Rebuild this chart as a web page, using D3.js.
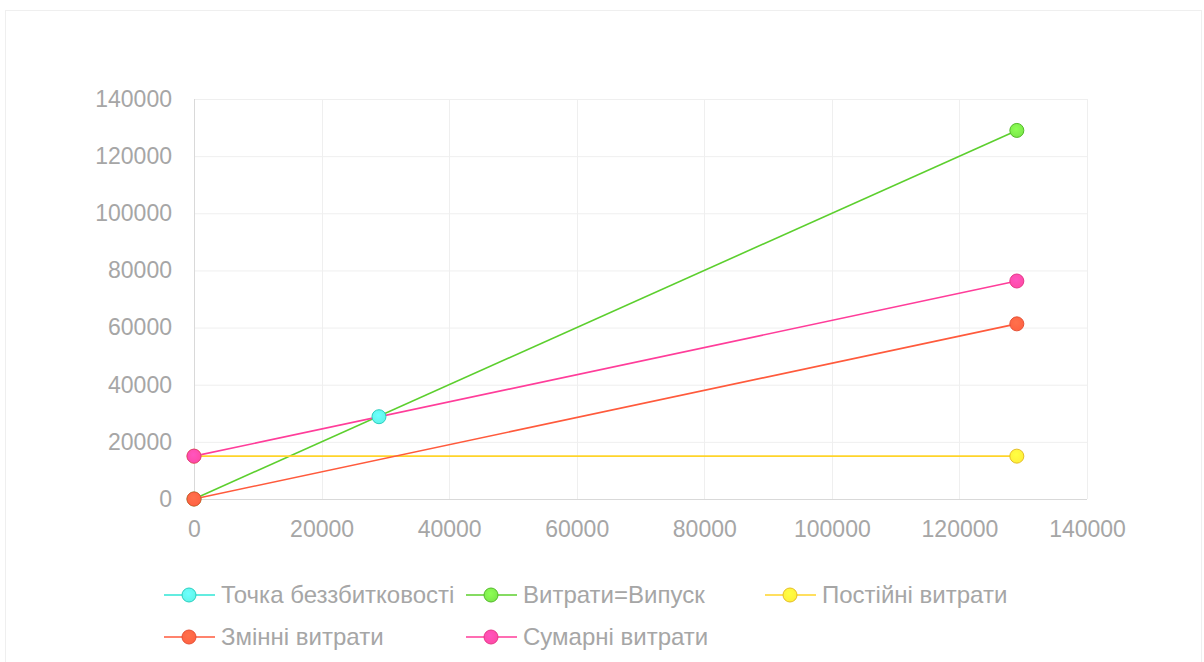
<!DOCTYPE html>
<html><head><meta charset="utf-8">
<script src="https://cdn.jsdelivr.net/npm/d3@7"></script>
<style>
html,body{margin:0;padding:0;background:#fff;}
svg{display:block;font-family:"Liberation Sans",Arial,sans-serif;}
</style></head>
<body><svg id="c" width="1204" height="662"></svg>
<script>
const xTicks = [0,20000,40000,60000,80000,100000,120000,140000];
const yTicks = [0,20000,40000,60000,80000,100000,120000,140000];
const seriesNames = ["Точка беззбитковості","Витрати=Випуск","Постійні витрати","Змінні витрати","Сумарні витрати"];
const seriesColors = ["#2fe6d6","#5ccf2e","#ffd42a","#ff5a3c","#ff3d9a"];
const markerFill = ["#5ff5e8","#7be84a","#fff03a","#ff6242","#ff4aa6"];
const breakEven = [[29000,28800]];
const outputCosts = [[0,0],[129000,129000]];
const fixedCosts = [[0,15000],[129000,15000]];
const variableCosts = [[0,0],[129000,61300]];
const totalCosts = [[0,15000],[129000,76300]];
const seriesData = [breakEven, outputCosts, fixedCosts, variableCosts, totalCosts];

const svg = d3.select("#c");
svg.append("rect").attr("x",5.5).attr("y",10.5).attr("width",1196).attr("height",660)
  .attr("fill","none").attr("stroke","#efefef");

const x = d3.scaleLinear().domain([0,140000]).range([194,1087]);
const y = d3.scaleLinear().domain([0,140000]).range([499,99]);

const defs = svg.append("defs");
seriesColors.forEach((c,i)=>{
  const g = defs.append("radialGradient").attr("id","g"+i).attr("cx","45%").attr("cy","40%").attr("r","60%");
  g.append("stop").attr("offset","0%").attr("stop-color",d3.color(markerFill[i]).brighter(0.4));
  g.append("stop").attr("offset","100%").attr("stop-color",markerFill[i]);
});

// grid
svg.append("g").selectAll("line").data(yTicks.slice(1)).join("line")
  .attr("x1",194).attr("x2",1087).attr("y1",d=>y(d)+0.5).attr("y2",d=>y(d)+0.5)
  .attr("stroke","#efefef");
svg.append("g").selectAll("line").data(xTicks.slice(1)).join("line")
  .attr("y1",99).attr("y2",499).attr("x1",d=>Math.round(x(d))+0.5).attr("x2",d=>Math.round(x(d))+0.5)
  .attr("stroke","#efefef");
// axes lines
svg.append("line").attr("x1",194.5).attr("x2",194.5).attr("y1",99).attr("y2",500).attr("stroke","#d9d9d9");
svg.append("line").attr("x1",194).attr("x2",1087).attr("y1",499.5).attr("y2",499.5).attr("stroke","#d9d9d9");

// tick labels
const axX = svg.append("g").attr("transform","translate(0,499)")
  .call(d3.axisBottom(x).tickValues(xTicks).tickSize(0).tickPadding(22).tickFormat(d3.format("d")));
axX.select(".domain").remove();
axX.selectAll("text").attr("font-size",23).attr("fill","#a6a6a6").attr("font-family","Liberation Sans, Arial, sans-serif");
const axY = svg.append("g").attr("transform","translate(194,0)")
  .call(d3.axisLeft(y).tickValues(yTicks).tickSize(0).tickPadding(22).tickFormat(d3.format("d")));
axY.select(".domain").remove();
axY.selectAll("text").attr("font-size",23).attr("fill","#a6a6a6").attr("font-family","Liberation Sans, Arial, sans-serif");

const line = d3.line().x(d=>x(d[0])).y(d=>y(d[1]));
const drawOrder = [0,1,2,3,4];
drawOrder.forEach(i=>{
  svg.append("path").datum(seriesData[i]).attr("d",line).attr("fill","none")
    .attr("stroke",seriesColors[i]).attr("stroke-width",1.6);
});
drawOrder.forEach(i=>{
  svg.append("g").selectAll("circle").data(seriesData[i]).join("circle")
    .attr("cx",d=>x(d[0])).attr("cy",d=>y(d[1])).attr("r",7)
    .attr("fill","url(#g"+i+")").attr("stroke",d3.color(seriesColors[i]).darker(0.3)).attr("stroke-width",1);
});

// legend
const legendPos = [[164,595],[466,595],[765,595],[164,637],[466,637]];
seriesNames.forEach((n,i)=>{
  const [lx,ly] = legendPos[i];
  const g = svg.append("g");
  g.append("line").attr("x1",lx).attr("x2",lx+51).attr("y1",ly).attr("y2",ly)
    .attr("stroke",seriesColors[i]).attr("stroke-width",1.6);
  g.append("circle").attr("cx",lx+25).attr("cy",ly).attr("r",7)
    .attr("fill","url(#g"+i+")").attr("stroke",d3.color(seriesColors[i]).darker(0.3));
  g.append("text").attr("x",lx+57).attr("y",ly).attr("dy","0.35em")
    .attr("font-size",24).attr("fill","#a6a6a6").text(n);
});
</script></body></html>
